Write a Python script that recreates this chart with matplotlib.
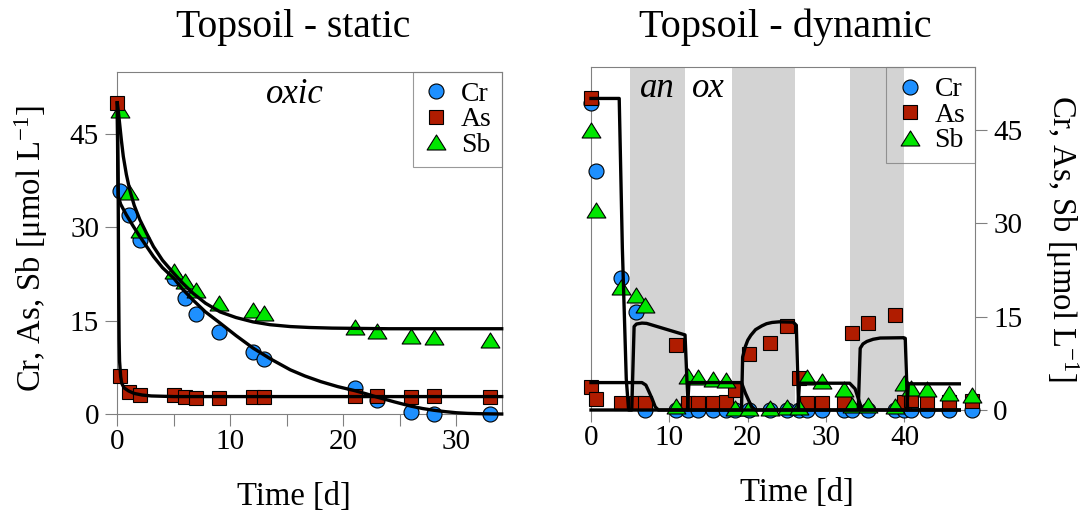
import matplotlib
matplotlib.use("Agg")
import matplotlib.pyplot as plt
from matplotlib.path import Path
from matplotlib.lines import Line2D

plt.rcParams['font.family'] = ['Liberation Serif', 'DejaVu Serif']
plt.rcParams['mathtext.fontset'] = 'custom'
plt.rcParams['mathtext.rm'] = 'Liberation Serif'
plt.rcParams['mathtext.it'] = 'Liberation Serif:italic'

# ---------------- static experiment (oxic) ----------------
static_t = [0.25, 1, 2, 5, 6, 7, 9, 12, 13, 21, 23, 26, 28, 33]
static_cr = [35.9, 32.0, 28.0, 21.8, 18.6, 16.1, 13.1, 10.0, 8.9, 4.1, 2.2, 0.4, 0.0, 0.0]
static_sb = [48.8, 35.6, 29.6, 22.9, 21.4, 19.9, 17.9, 16.7, 16.3, 14.0, 13.4, 12.6, 12.3, 11.9]
static_as_t = [0, 0.25, 1, 2, 5, 6, 7, 9, 12, 13, 21, 23, 26, 28, 33]
static_as = [50.0, 6.1, 3.6, 3.05, 3.0, 2.7, 2.5, 2.5, 2.7, 2.7, 2.9, 2.9, 2.8, 2.9, 2.8]

# fitted model curves, static
fit_cr_t = [0, 0.03, 0.08, 0.3, 0.8, 1.4, 2, 2.6, 3.2, 4, 5, 5.8, 6.7, 7.8, 9.1, 10.5, 12,
            13.6, 15.3, 16.6, 18, 19.5, 21, 22, 23, 24.5, 26, 27, 28, 29, 30, 31, 32, 33, 34]
fit_cr_v = [50, 42, 35, 33.7, 32.0, 30.2, 28.5, 26.9, 25.3, 23.5, 21.8, 20.0, 18.3, 16.4,
            14.6, 12.6, 10.6, 8.8, 7.1, 6.1, 5.2, 4.4, 3.75, 3.25, 2.7, 1.95, 1.25, 0.88, 0.6,
            0.38, 0.2, 0.1, 0.05, 0.02, 0]
fit_sb_t = [0, 0.14, 0.36, 0.53, 0.8, 1.1, 1.5, 2, 2.6, 3.2, 4, 5, 5.8, 6.7, 7.8, 9.1,
            10.5, 12, 13.5, 15.3, 17, 19, 21.5, 24, 34]
fit_sb_v = [50, 47.8, 44.0, 41.4, 38.5, 36.0, 33.5, 31.2, 29.0, 26.9, 24.7, 22.6, 21.0,
            19.4, 17.8, 16.4, 15.5, 14.8, 14.35, 14.05, 13.9, 13.8, 13.75, 13.7, 13.7]
fit_as_t = [0, 0.08, 0.12, 0.16, 0.2, 0.3, 0.4, 0.6, 1.0, 1.5, 2.2, 3, 5, 34]
fit_as_v = [50, 35, 20, 12, 8.5, 6.0, 4.9, 4.2, 3.7, 3.3, 3.05, 2.9, 2.8, 2.8]

# ---------------- dynamic experiment (anoxic / oxic cycles) ----------------
anoxic_start = [5, 18, 33]
anoxic_end = [12, 26, 40]

dyn_t = [0, 0.6, 3.8, 5.8, 6.9, 10.8, 12.4, 13.7, 15.6, 17.2, 18.4, 20.1, 22.8,
         25.0, 26.5, 27.5, 29.5, 32.3, 33.3, 35.3, 38.8, 39.9, 40.8, 42.9, 45.7, 48.6]
dyn_cr = [49.3, 38.3, 21.2, 15.8, 0, 0, 0, 0, 0, 0, 0, 0, 0,
          0, 0, 0, 0, 0, 0, 0, 0, 0, 0, 0, 0, 0]
dyn_sb = [45.0, 32.1, 19.8, 18.5, 16.9, 0.6, 5.5, 5.3, 5.0, 4.8, 0.4, 0.4, 0.4,
          0.5, 0.5, 5.3, 4.6, 3.4, 0.8, 0.8, 0.6, 4.3, 3.5, 3.4, 2.8, 2.4]
dyn_as_t = [0, 0, 0.6, 3.8, 5.8, 6.9, 10.8, 12.4, 13.7, 15.6, 17.2, 18.4, 20.1, 22.8,
            25.0, 26.5, 27.5, 29.5, 32.3, 33.3, 35.3, 38.8, 39.9, 40.8, 42.9, 45.7, 48.6]
dyn_as = [50.0, 3.7, 1.7, 1.2, 1.2, 1.2, 10.5, 1.1, 1.1, 1.1, 1.3, 3.2, 9.0, 10.7,
          13.5, 5.1, 1.2, 1.2, 1.2, 12.3, 13.9, 15.3, 1.3, 1.6, 1.5, 1.3, 1.5]

# model curves, dynamic
mod_a_t = [0, 3.6, 4.0, 4.5, 4.8, 47]
mod_a_v = [50, 50, 26, 5, 0, 0]
mod_b_t = [0, 6.5, 7.0, 7.3, 7.8, 8.2, 8.6, 12.3, 12.5, 19.2, 19.7, 20.5, 21.0,
           26.4, 26.6, 33.0, 33.7, 34.3, 34.6, 40.3, 40.5, 47.0]
mod_b_v = [4.4, 4.4, 4.0, 3.2, 1.8, 0.5, 0, 0, 4.4, 4.4, 2.7, 0.5, 0,
           0, 4.3, 4.3, 3.4, 1.1, 0, 0, 4.2, 4.2]
mod_c_t = [0, 5.2, 5.5, 5.8, 6.5, 7.1, 12.0, 12.4, 19.2, 19.35, 19.7, 20.0, 20.4, 21.0,
           21.8, 22.4, 23.1, 24.0, 25.8, 26.2, 26.5, 34.1, 34.35, 34.7, 35.2, 36.0, 36.9,
           39.9, 40.1, 40.4, 47]
mod_c_v = [0, 0, 13.4, 13.8, 13.95, 13.9, 12.05, 0, 0, 8.5, 10.2, 11.2, 12.0, 12.9,
           13.5, 13.85, 14.05, 14.15, 14.1, 13.6, 0, 0, 9.9, 10.6, 11.0, 11.35, 11.55,
           11.6, 11.5, 0, 0]

species = ['Cr', 'As', 'Sb']
colors = {'Cr': '#1E90FF', 'As': '#B01C00', 'Sb': '#00E600'}
tri = Path([(0, 0.8), (-1, -0.8), (1, -0.8), (0, 0.8)], closed=True)
markers = {'Cr': ('o', 10.8), 'As': ('s', 10.5), 'Sb': (tri, 13.5)}

SPINE = '#808080'
W, H = 1088, 513
fig = plt.figure(figsize=(W / 100, H / 100), dpi=100)


def px_axes(x0, y0, x1, y1):
    return fig.add_axes([x0 / W, 1 - y1 / H, (x1 - x0) / W, (y1 - y0) / H])


def scatter(ax, name, t, v):
    m, ms = markers[name]
    ax.plot(t, v, linestyle='none', marker=m, markersize=ms, markerfacecolor=colors[name],
            markeredgecolor='black', markeredgewidth=0.8, clip_on=False, zorder=3)


def curve(ax, t, v):
    ax.plot(t, v, color='black', lw=2.4, solid_joinstyle='round', zorder=4, clip_on=False)


def style(ax, xticks, minor):
    for s in ax.spines.values():
        s.set_color(SPINE)
        s.set_linewidth(0.8)
    ax.set_ylim(0, 55)
    ax.set_yticks([0, 15, 30, 45])
    ax.set_xticks(xticks)
    ax.set_xticks(minor, minor=True)
    ax.tick_params(axis='both', which='both', length=8.6, width=0.8, color=SPINE,
                   labelsize=21, direction='out')
    ax.tick_params(axis='x', pad=2.5)
    ax.tick_params(axis='y', pad=4.5)


def legend(ax):
    handles = [Line2D([], [], linestyle='none', marker=markers[n][0], markersize=markers[n][1],
                      markerfacecolor=colors[n], markeredgecolor='black', markeredgewidth=0.8)
               for n in species]
    lg = ax.legend(handles, species, loc='upper right', bbox_to_anchor=(1, 1),
                   borderaxespad=0, fontsize=20, handlelength=1.0, handletextpad=0.4,
                   labelspacing=0.0, borderpad=0.35, fancybox=False, numpoints=1)
    fr = lg.get_frame()
    fr.set_edgecolor(SPINE)
    fr.set_linewidth(0.8)
    fr.set_facecolor('none')
    lg.set_zorder(5)


ylabel = 'Cr, As, Sb [μmol L$^{-1}$]'

# ---- left panel: static ----
ax1 = px_axes(117.3, 71.7, 501.7, 414)
ax1.set_xlim(0, 34)
style(ax1, [0, 10, 20, 30], [5, 15, 25])
scatter(ax1, 'Cr', static_t, static_cr)
scatter(ax1, 'Sb', static_t, static_sb)
scatter(ax1, 'As', static_as_t, static_as)
curve(ax1, fit_cr_t, fit_cr_v)
curve(ax1, fit_sb_t, fit_sb_v)
curve(ax1, fit_as_t, fit_as_v)
ax1.text(15.7, 49.9, 'oxic', style='italic', fontsize=25, ha='center', va='baseline')
legend(ax1)

# ---- right panel: dynamic ----
ax2 = px_axes(591, 67.3, 975, 410)
ax2.set_xlim(0, 49)
style(ax2, [0, 10, 20, 30, 40], [])
ax2.yaxis.tick_right()
ax2.tick_params(axis='y', which='both', left=False, right=True, labelleft=False, labelright=True)
for a, b in zip(anoxic_start, anoxic_end):
    ax2.axvspan(a, b, color='#D3D3D3', lw=0, zorder=0)
scatter(ax2, 'Cr', dyn_t, dyn_cr)
scatter(ax2, 'As', dyn_as_t, dyn_as)
scatter(ax2, 'Sb', dyn_t, dyn_sb)
curve(ax2, mod_a_t, mod_a_v)
curve(ax2, mod_b_t, mod_b_v)
curve(ax2, mod_c_t, mod_c_v)
ax2.text((anoxic_start[0] + anoxic_end[0]) / 2, 50.3, 'an', style='italic', fontsize=25,
         ha='center', va='baseline')
ax2.text((anoxic_end[0] + anoxic_start[1]) / 2, 50.3, 'ox', style='italic', fontsize=25,
         ha='center', va='baseline')
legend(ax2)

# ---- titles and axis labels ----
fig.text(293 / W, 1 - 37 / H, 'Topsoil - static', ha='center', va='baseline', fontsize=28.5)
fig.text(785 / W, 1 - 37 / H, 'Topsoil - dynamic', ha='center', va='baseline', fontsize=29)
fig.text(294 / W, 1 - 504.5 / H, 'Time [d]', ha='center', va='baseline', fontsize=23.5)
fig.text(797 / W, 1 - 500.7 / H, 'Time [d]', ha='center', va='baseline', fontsize=23.5)
fig.text(31 / W, 1 - 248 / H, ylabel, rotation=90, ha='center', va='center', fontsize=23.5)
fig.text(1062 / W, 1 - 239 / H, ylabel, rotation=270, ha='center', va='center', fontsize=23.5)

fig.savefig('out.png', dpi=100)
